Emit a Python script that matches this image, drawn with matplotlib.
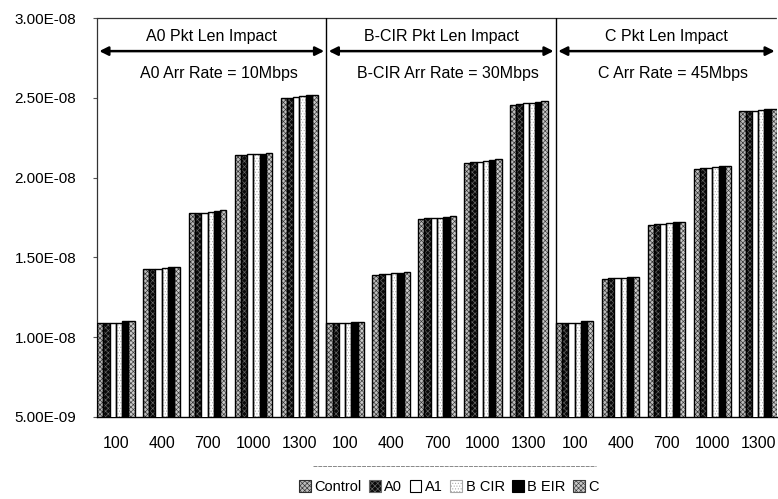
import matplotlib
matplotlib.use("Agg")
import matplotlib.pyplot as plt
import numpy as np
from matplotlib.ticker import FuncFormatter
from matplotlib.lines import Line2D

plt.rcParams['font.family'] = ['Liberation Sans', 'DejaVu Sans']
plt.rcParams['hatch.linewidth'] = 0.45

# Packet lengths, repeated for each of the three impact sections
pkt_len = ["100", "400", "700", "1000", "1300"] * 3

# Delay values per traffic class (seconds)
control = [1.090e-8, 1.430e-8, 1.780e-8, 2.140e-8, 2.500e-8,
           1.090e-8, 1.390e-8, 1.740e-8, 2.090e-8, 2.455e-8,
           1.090e-8, 1.365e-8, 1.705e-8, 2.055e-8, 2.415e-8]
a0 = [1.090e-8, 1.430e-8, 1.780e-8, 2.140e-8, 2.500e-8,
      1.090e-8, 1.395e-8, 1.745e-8, 2.100e-8, 2.460e-8,
      1.090e-8, 1.370e-8, 1.710e-8, 2.060e-8, 2.420e-8]
a1 = [1.090e-8, 1.430e-8, 1.780e-8, 2.145e-8, 2.505e-8,
      1.090e-8, 1.395e-8, 1.745e-8, 2.100e-8, 2.465e-8,
      1.090e-8, 1.370e-8, 1.710e-8, 2.060e-8, 2.420e-8]
b_cir = [1.090e-8, 1.435e-8, 1.785e-8, 2.150e-8, 2.510e-8,
         1.090e-8, 1.400e-8, 1.750e-8, 2.105e-8, 2.470e-8,
         1.090e-8, 1.370e-8, 1.715e-8, 2.065e-8, 2.425e-8]
b_eir = [1.100e-8, 1.440e-8, 1.790e-8, 2.150e-8, 2.515e-8,
         1.095e-8, 1.405e-8, 1.755e-8, 2.110e-8, 2.475e-8,
         1.100e-8, 1.375e-8, 1.720e-8, 2.070e-8, 2.430e-8]
c_cls = [1.100e-8, 1.440e-8, 1.795e-8, 2.155e-8, 2.520e-8,
         1.097e-8, 1.410e-8, 1.757e-8, 2.115e-8, 2.480e-8,
         1.100e-8, 1.377e-8, 1.723e-8, 2.075e-8, 2.430e-8]

series_names = ["Control", "A0", "A1", "B CIR", "B EIR", "C"]
series_vals = [control, a0, a1, b_cir, b_eir, c_cls]

section_titles = ["A0 Pkt Len Impact", "B-CIR Pkt Len Impact", "C Pkt Len Impact"]
section_rates = ["A0 Arr Rate = 10Mbps", "B-CIR Arr Rate = 30Mbps", "C Arr Rate = 45Mbps"]

# (face colour, hatch, hatch colour) for each class
styles = [("#bcbcbc", "xxxxxxx", "#2e2e2e"),
          ("#0a0a0a", "xxxxxx", "#6a6a6a"),
          ("#ffffff", None, None),
          ("#ffffff", "......", "#a8a8a8"),
          ("#000000", None, None),
          ("#cacaca", "xxxxxxx", "#3a3a3a")]

fig = plt.figure(figsize=(7.78, 4.99), dpi=100)
ax = fig.add_axes([97 / 778, 82 / 499, 680 / 778, 399 / 499])

x = np.arange(len(pkt_len))
group_w = 0.818
bar_w = group_w / len(series_names)

handles = []
for j, (name, vals, (fc, hatch, hc)) in enumerate(zip(series_names, series_vals, styles)):
    pos = x + (j - 2.5) * bar_w
    if hatch:
        ax.bar(pos, vals, width=bar_w, facecolor=fc, hatch=hatch,
               edgecolor=hc, linewidth=0, zorder=2)
        ax.bar(pos, vals, width=bar_w, fill=False, edgecolor="black",
               linewidth=1.0, zorder=3)
    else:
        ax.bar(pos, vals, width=bar_w, facecolor=fc, edgecolor="black",
               linewidth=1.0, zorder=3)
    h = plt.Rectangle((0, 0), 1, 1, facecolor=fc, hatch=hatch,
                      edgecolor=hc if hc else "black", linewidth=0.8)
    handles.append(h)

left = -group_w / 2
right = len(pkt_len) - 1 + group_w / 2
ax.set_xlim(left, right)
ax.set_ylim(5e-9, 3e-8)
ax.set_yticks(np.arange(5e-9, 3.01e-8, 5e-9))
ax.yaxis.set_major_formatter(FuncFormatter(lambda v, p: f"{v:.2E}"))
ax.set_xticks(x)
ax.set_xticklabels(pkt_len)
ax.tick_params(axis="x", length=0, pad=14, labelsize=11.5)
ax.tick_params(axis="y", length=3, width=0.8, color="#555555", pad=12, labelsize=11)

for s in ["left", "top"]:
    ax.spines[s].set_linestyle((0, (1, 1)))
    ax.spines[s].set_color("#333333")
    ax.spines[s].set_linewidth(0.9)
ax.spines["right"].set_visible(False)
ax.spines["bottom"].set_color("black")
ax.spines["bottom"].set_linewidth(1.0)

# Section dividers and annotations
bounds = [left, 5 - group_w / 2, 10 - group_w / 2, right]
for b in bounds[1:3]:
    ax.axvline(b, color="black", linewidth=1.0, zorder=4)

for k in range(3):
    x0, x1 = bounds[k], bounds[k + 1]
    mid = (x0 + x1) / 2
    ax.annotate("", xy=(x0 + 0.05, 0.917), xytext=(x1 - 0.05, 0.917),
                xycoords=("data", "axes fraction"),
                textcoords=("data", "axes fraction"),
                arrowprops=dict(arrowstyle="<|-|>", color="black", lw=1.8,
                                mutation_scale=13, shrinkA=0, shrinkB=0),
                annotation_clip=False)
    ax.text(mid, 0.953, section_titles[k], ha="center", va="center",
            fontsize=11.5, transform=ax.get_xaxis_transform())
    ax.text(mid + 0.15, 0.862, section_rates[k], ha="center", va="center",
            fontsize=11.5, transform=ax.get_xaxis_transform())

# Legend with a thin rule above it
fig.legend(handles, series_names, loc="center", bbox_to_anchor=(449 / 778, 1 - 487 / 499),
           ncol=6, frameon=False, fontsize=10.5, handlelength=0.8, handleheight=0.8,
           handletextpad=0.25, columnspacing=0.5, borderpad=0.1)
fig.add_artist(Line2D([313 / 778, 596 / 778], [1 - 466 / 499, 1 - 466 / 499],
                      transform=fig.transFigure, color="#888888", lw=0.7,
                      linestyle=(0, (4, 1))))

fig.savefig("out.png", dpi=100)
